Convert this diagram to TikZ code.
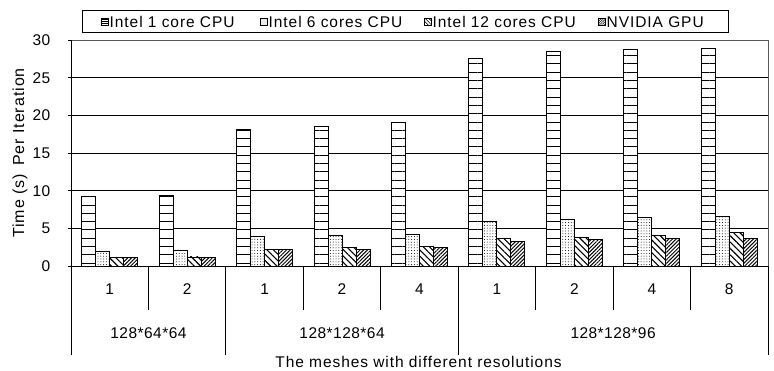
\documentclass[tikz,border=0pt]{standalone}
\usepackage{fontspec}
\setmainfont{Liberation Sans}[LetterSpace=3]
\newfontfamily\widefont{Liberation Sans}[LetterSpace=6]
\usetikzlibrary{patterns.meta}
\begin{document}
\begin{tikzpicture}[x=1pt,y=1pt,
  font=\fontsize{15.5}{18}\selectfont,
  lbl/.style={inner sep=0pt},
  widelbl/.style={inner sep=0pt,font=\fontsize{15.5}{18}\widefont},
  barbox/.style={draw=black,line width=0.9pt,preaction={fill=white}},
  pone/.style={barbox,pattern={Lines[distance=8.3pt,angle=0,line width=0.9pt]}},
  psix/.style={barbox,pattern={Dots[distance=2.8pt,radius=0.5pt]}},
  ptwelve/.style={barbox,pattern={Lines[distance=4.5pt,angle=-45,line width=1.1pt]}},
  pgpu/.style={barbox,pattern={Lines[distance=2.6pt,angle=45,line width=1pt]}},
  grid/.style={black,line width=0.8pt},
  frame/.style={gray!70!black,line width=0.9pt},
  sep/.style={black,line width=0.9pt}]
\useasboundingbox (0,0) rectangle (774,371);
% plot geometry: base line, pixels per unit, category width
\def\yb{105}
\def\sc{7.53}
\def\cw{77.444}
% plot frame and grid
\draw[frame] (71,330.9) -- (768,330.9) -- (768,\yb);
\foreach \v in {5,10,...,25}
  \draw[grid] (71,\yb+\v*\sc) -- (768,\yb+\v*\sc);
\foreach \v in {0,5,...,30} {
  \draw[sep] (68,\yb+\v*\sc) -- (71,\yb+\v*\sc);
  \node[lbl,anchor=east] (ytick\v) at (50.5,\yb+\v*\sc) {\v};
}
% bars
\foreach [count=\i from 0] \a/\b/\c/\d in
  {9.3/1.9/1.15/1.1, 9.4/2.0/1.2/1.1, 18.15/3.9/2.2/2.2, 18.5/4.0/2.5/2.2,
   19.0/4.15/2.65/2.45, 27.6/5.9/3.7/3.3, 28.5/6.2/3.8/3.5,
   28.8/6.4/4.1/3.7, 28.9/6.6/4.5/3.7} {
  \pgfmathsetmacro\xl{71+\i*\cw+10.72}
  \draw[pone]    (\xl,\yb)    rectangle ++(14,\a*\sc);
  \draw[psix]    (\xl+14,\yb) rectangle ++(14,\b*\sc);
  \draw[ptwelve] (\xl+28,\yb) rectangle ++(14,\c*\sc);
  \draw[pgpu]    (\xl+42,\yb) rectangle ++(14,\d*\sc);
}
% axes
\draw[sep] (71,330.9) -- (71,\yb);
\draw[sep] (71,\yb) -- (768,\yb);
% category separators
\foreach \i in {1,3,4,6,7,8}
  \draw[sep] (71+\i*\cw,\yb) -- (71+\i*\cw,61);
\foreach \i in {0,2,5,9}
  \draw[sep] (71+\i*\cw,\yb) -- (71+\i*\cw,16);
% category labels
\foreach [count=\i from 0] \t in {1,2,1,2,4,1,2,4,8}
  \node[lbl] (cat\i) at (71+\i*\cw+\cw/2,82) {\t};
\node[lbl] (g1) at (71+\cw,38) {128*64*64};
\node[lbl] (g2) at (71+3.5*\cw,38) {128*128*64};
\node[lbl] (g3) at (71+7*\cw,38) {128*128*96};
\node[widelbl] (xtitle) at (418.5,9) {The meshes with different resolutions};
\node[widelbl,rotate=90,font=\fontsize{16}{18}\widefont] (ytitle) at (20,218) {Time (s)\, Per Iteration};
% legend
\draw[black,line width=1pt] (82.7,338) rectangle (728,360);
\draw[pone,line width=0.6pt,pattern={Lines[distance=2pt,angle=0,line width=0.5pt]}] (101,345.5) rectangle ++(7,7);
\node[widelbl,anchor=west] (leg1) at (109.5,349) {Intel 1 core CPU};
\draw[psix,line width=0.6pt,pattern={Dots[distance=2pt,radius=0.45pt]}] (260,345.5) rectangle ++(7,7);
\node[widelbl,anchor=west] (leg2) at (268.5,349) {Intel 6 cores CPU};
\draw[ptwelve,line width=0.6pt,pattern={Lines[distance=2.5pt,angle=-45,line width=0.6pt]}] (424,345.5) rectangle ++(7,7);
\node[widelbl,anchor=west] (leg3) at (432.5,349) {Intel 12 cores CPU};
\draw[pgpu,line width=0.6pt,pattern={Lines[distance=1.6pt,angle=45,line width=0.5pt]}] (598,345.5) rectangle ++(7,7);
\node[widelbl,anchor=west] (leg4) at (606.5,349) {NVIDIA GPU};
\end{tikzpicture}
\end{document}
